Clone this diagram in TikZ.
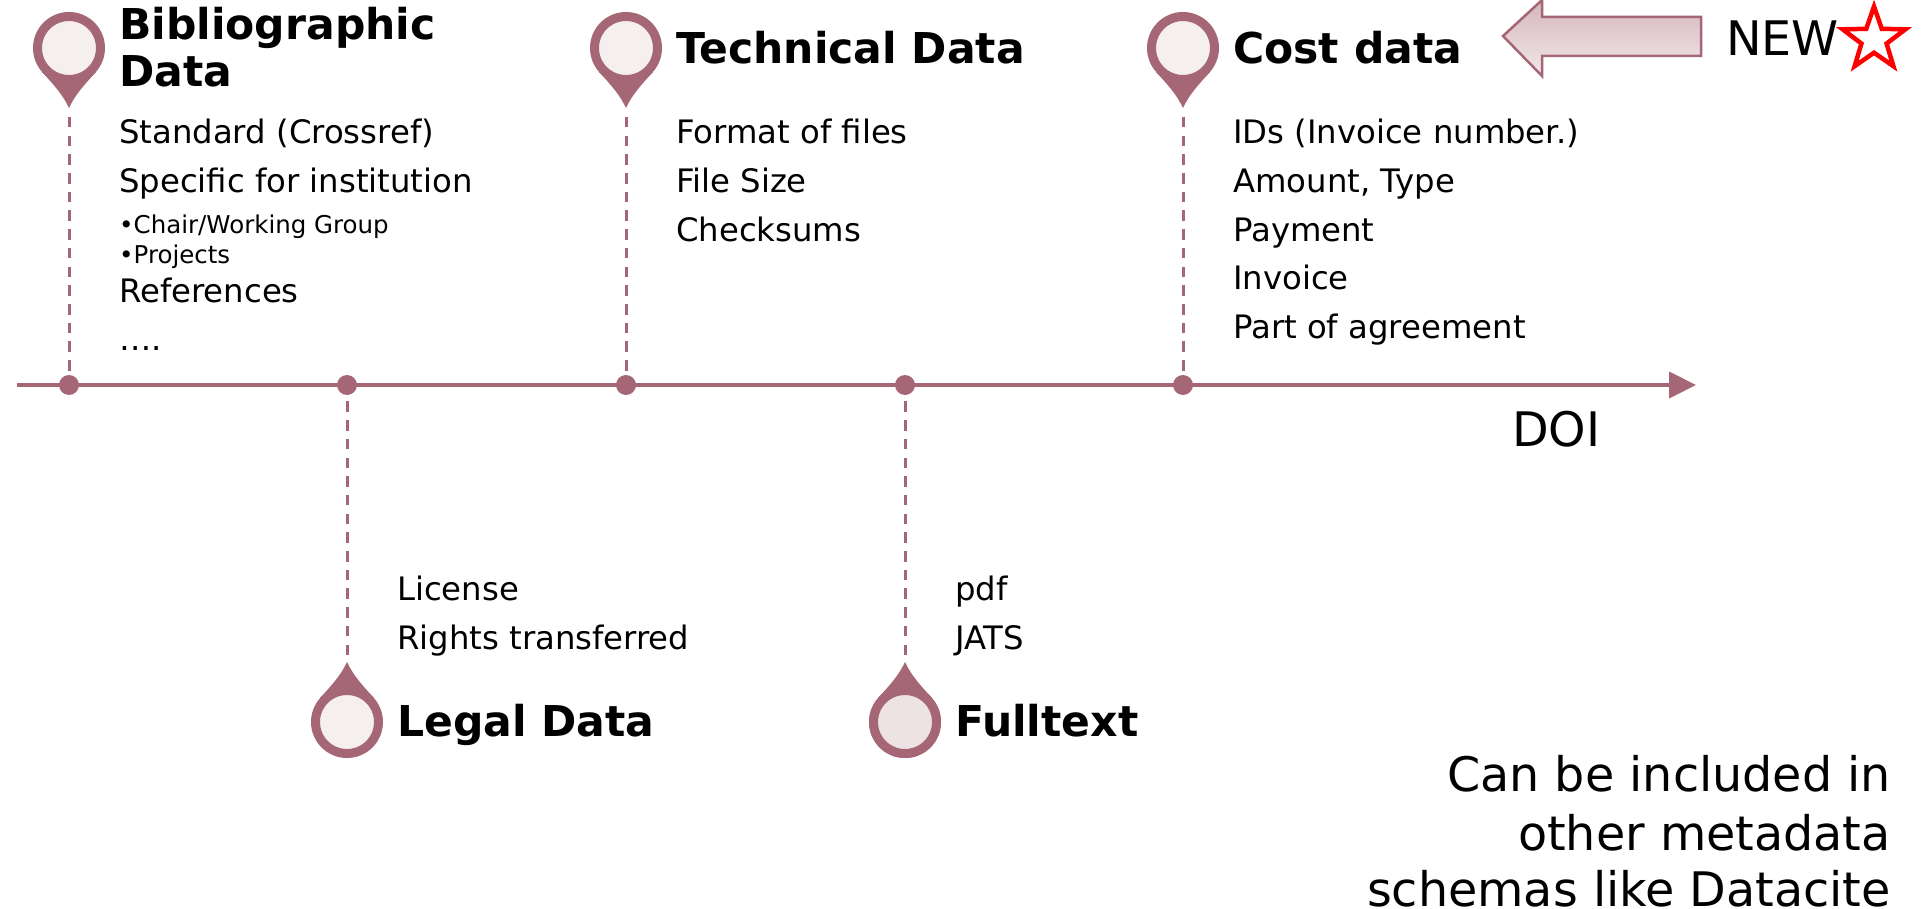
\documentclass[tikz,border=0pt]{standalone}
\usepackage{fontspec}
\setmainfont{DejaVu Sans}
\usetikzlibrary{arrows.meta,shapes.geometric}
\definecolor{rose}{HTML}{A56775}
\definecolor{pale}{HTML}{F5EFEF}
\definecolor{palefull}{HTML}{EDE2E4}
\newcommand{\fs}[1]{\fontsize{#1}{#1}\selectfont}
\tikzset{
  x=1pt,y=-1pt,
  axisline/.style={draw=rose,line width=4.2pt,-{Triangle[length=27pt,width=26pt]},shorten >=-1pt},
  dot/.style={circle,fill=rose,minimum size=20pt,inner sep=0pt},
  stem/.style={draw=rose,line width=3pt,dash pattern=on 10.5pt off 8.2pt},
  head/.style={circle,draw=rose,line width=9pt,fill=pale,minimum size=63pt,inner sep=0pt},
  pintip/.style={fill=rose,draw=none},
  title/.style={anchor=base west,inner sep=0pt,font=\fs{42.5}\bfseries},
  body/.style={anchor=base west,inner sep=0pt,font=\fs{32.3}},
  small/.style={anchor=base west,inner sep=0pt,font=\fs{24.5}},
  big/.style={anchor=base east,inner sep=0pt,font=\fs{47.6}},
}
% #1 name, #2 x, #3 y of head centre, #4 direction (1 down, -1 up)
\newcommand{\pinmark}[4]{%
  \coordinate (#1tip) at (#2,#3+#4*60);
  \fill[pintip] (#2-27,#3+#4*24) .. controls (#2-15,#3+#4*37) and (#2-6,#3+#4*47) .. (#1tip)
     .. controls (#2+6,#3+#4*47) and (#2+15,#3+#4*37) .. (#2+27,#3+#4*24) -- cycle;
  \node[head] (#1) at (#2,#3) {};
}
\begin{document}
\begin{tikzpicture}
\useasboundingbox (0,0) rectangle (1926,909);
% axis
\coordinate (axisstart) at (17,385);
\coordinate (axisend) at (1695,385);
\draw[axisline] (axisstart) -- (axisend);
\node[dot] (d1) at (69,385) {};
\node[dot] (d2) at (347,385) {};
\node[dot] (d3) at (626,385) {};
\node[dot] (d4) at (905,385) {};
\node[dot] (d5) at (1183,385) {};
% pins
\pinmark{p1}{69}{48}{1}
\pinmark{p3}{626}{48}{1}
\pinmark{p5}{1183}{48}{1}
\pinmark{p2}{347}{722}{-1}
\pinmark{p4}{905}{722}{-1}
\node[head,fill=palefull] at (p4) {};
% stems
\draw[stem] ([yshift=-9pt]p1tip) -- (d1);
\draw[stem] ([yshift=-9pt]p3tip) -- (d3);
\draw[stem] ([yshift=-9pt]p5tip) -- (d5);
\draw[stem] ([yshift=7pt]p2tip) -- (d2);
\draw[stem] ([yshift=7pt]p4tip) -- (d4);
% Bibliographic
\node[title] (t1a) at (119,40) {Bibliographic};
\node[title] (t1b) at (119,87) {Data};
\node[body] (b1a) at (119,144) {Standard (Crossref)};
\node[body] (b1b) at (119,193) {Specific for institution};
\node[small] (b1c) at (119,234) {•Chair/Working Group};
\node[small] (b1d) at (119,264) {•Projects};
\node[body] (b1e) at (119,302) {References};
\node[body] (b1f) at (119,350) {….};
% Technical
\node[title] (t3) at (676,64) {Technical Data};
\node[body] (b3a) at (676,144) {Format of files};
\node[body] (b3b) at (676,193) {File Size};
\node[body] (b3c) at (676,242) {Checksums};
% Cost
\node[title] (t5) at (1233,64) {Cost data};
\node[body] (b5a) at (1233,144) {IDs (Invoice number.)};
\node[body] (b5b) at (1233,193) {Amount, Type};
\node[body] (b5c) at (1233,242) {Payment};
\node[body] (b5d) at (1233,289) {Invoice};
\node[body] (b5e) at (1233,338) {Part of agreement};
% Legal
\node[body] (b2a) at (397,600) {License};
\node[body] (b2b) at (397,649) {Rights transferred};
\node[title] (t2) at (397,736) {Legal Data};
% Fulltext
\node[body] (b4a) at (955,600) {pdf};
\node[body] (b4b) at (955,649) {JATS};
\node[title] (t4) at (955,736) {Fulltext};
% DOI
\node[big,anchor=base west] (doi) at (1512,446) {DOI};
% NEW
\shade[top color=rose!48,bottom color=rose!15,draw=rose,line width=2.5pt]
  (1503,36) -- (1542,0) -- (1542,17) -- (1701,17) -- (1701,56) -- (1542,56) -- (1542,76) -- cycle;
\node[big,anchor=base west] (new) at (1726,56) {NEW};
\node[star,star points=5,star point ratio=2.5,draw=red,line width=4.5pt,fill=white,minimum size=66pt,inner sep=0pt] (star) at (1874,39.5) {};
% note
\node[big] (n1) at (1891,791) {Can be included in};
\node[big] (n2) at (1891,850) {other metadata};
\node[big] (n3) at (1891,906) {schemas like Datacite};
\end{tikzpicture}
\end{document}
